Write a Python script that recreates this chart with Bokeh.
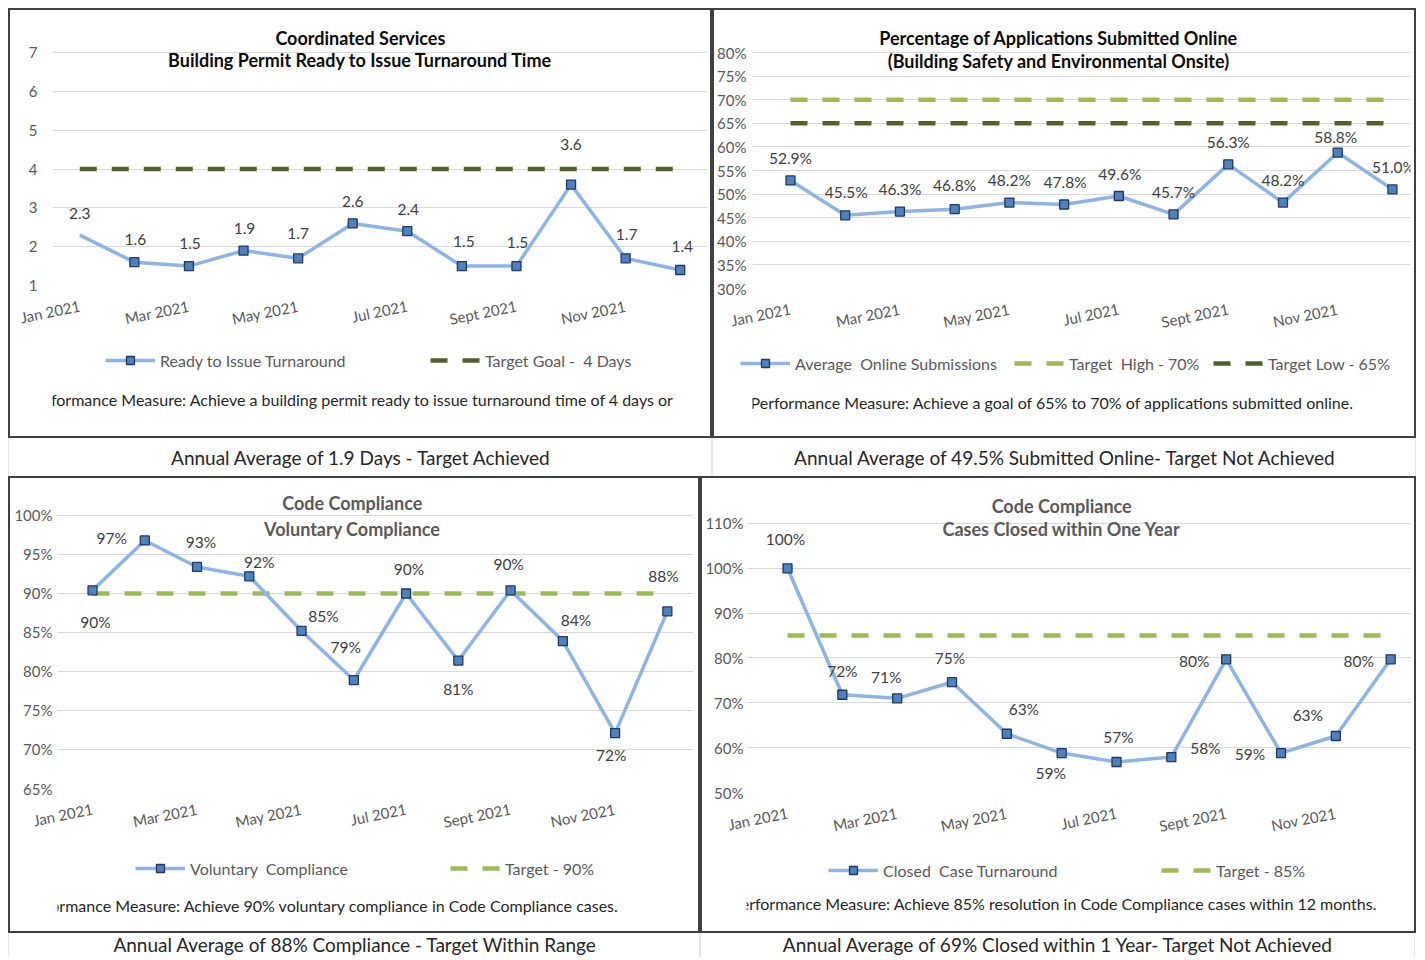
from bokeh.plotting import figure
from bokeh.models import (Range1d, FixedTicker, Legend, LegendItem, Label,
                          ColumnDataSource, PrintfTickFormatter)
from bokeh.layouts import column, row
from bokeh.embed import file_html
from bokeh.resources import INLINE
from bokeh.core.properties import value

FONT = "Lato"

# ---------------- data ----------------
months = ["Jan 2021", "Feb 2021", "Mar 2021", "Apr 2021", "May 2021", "Jun 2021",
          "Jul 2021", "Aug 2021", "Sept 2021", "Oct 2021", "Nov 2021", "Dec 2021"]
tick_months = [0, 2, 4, 6, 8, 10]
tick_labels = ["Jan 2021", "Mar 2021", "May 2021", "Jul 2021", "Sept 2021", "Nov 2021"]

turnaround_days = [2.3, 1.6, 1.5, 1.9, 1.7, 2.6, 2.4, 1.5, 1.5, 3.6, 1.7, 1.4]
turnaround_target = 4

online_pct = [52.9, 45.5, 46.3, 46.8, 48.2, 47.8, 49.6, 45.7, 56.3, 48.2, 58.8, 51.0]
online_target_high = 70
online_target_low = 65

voluntary_pct = [90.4, 96.8, 93.4, 92.2, 85.2, 78.9, 90.0, 81.4, 90.4, 83.9, 72.1, 87.7]
voluntary_target = 90

closed_pct = [100, 71.8, 71.0, 74.6, 63.1, 58.8, 56.8, 57.9, 79.7, 58.8, 62.6, 79.7]
closed_target = 85

# ---------------- label placement (style, px; +dy = down) ----------------
p1_dx = [0, 1, 1, 1, 0, 0, 1, 2, 1, 0, 1, 2]
p1_dy = [-22, -23, -23, -22, -25, -22, -22, -25, -24, -40, -24, -23]
p2_dx = [0, 1, 0, 0, 0, 1, 1, 0, 0, 0, -2, 1]
p2_dy = [-22, -23, -23, -24, -23, -22, -22, -22, -22, -23, -16, -22]
p3_dx = [3, -33, 4, 10, 22, -8, 3, 0, -2, 13, -4, -4]
p3_dy = [32, -2, -25, -14, -15, -33, -24, 28, -26, -21, 22, -35]
p4_dx = [-2, 0, -11, -2, 17, -11, 2, 34, -32, -31, -28, -32]
p4_dy = [-29, -24, -21, -24, -25, 20, -25, -9, 2, 1, -21, 2]

LINE_BLUE = "#8EB4E3"
MARK_FILL = "#4F81BD"
MARK_LINE = "#1F3864"
DARK_GREEN = "#4F6228"
LIGHT_GREEN = "#9BBB59"
GRID = "#D9D9D9"
LABEL_GRAY = "#595959"
DASH = "17 15"
AX_BOTTOM = 55


def panel(inner_w, mb_left, frame_w, frame_h, legend_h,
          xr, yr, yticks, pct, ystandoff, values, fmt, dx, dy,
          titles, title_color, title_x, title_ys,
          series_label, targets, legend_xs, legend_cy,
          perf_text, perf_x, perf_cy, skip_first_marker=False):
    p = figure(frame_width=frame_w, frame_height=frame_h,
               x_range=Range1d(*xr), y_range=Range1d(*yr),
               output_backend="svg", toolbar_location=None,
               min_border_left=mb_left, min_border_right=inner_w - mb_left - frame_w,
               min_border_top=10, min_border_bottom=AX_BOTTOM)
    p.outline_line_color = None
    p.background_fill_color = "white"
    p.border_fill_color = "white"
    p.xgrid.grid_line_color = None
    p.ygrid.ticker = FixedTicker(ticks=yticks)
    p.ygrid.grid_line_color = GRID
    p.ygrid.grid_line_width = 1.2

    p.yaxis.ticker = FixedTicker(ticks=yticks)
    if pct:
        p.yaxis.formatter = PrintfTickFormatter(format="%d%%")
    p.yaxis.axis_line_color = None
    p.yaxis.major_tick_line_color = None
    p.yaxis.minor_tick_line_color = None
    p.yaxis.major_tick_out = 0
    p.yaxis.minor_tick_out = 0
    p.yaxis.major_label_standoff = ystandoff
    p.yaxis.major_label_text_font = FONT
    p.yaxis.major_label_text_font_size = "15px"
    p.yaxis.major_label_text_color = LABEL_GRAY

    p.xaxis.ticker = FixedTicker(ticks=tick_months)
    p.xaxis.major_label_overrides = {t: l for t, l in zip(tick_months, tick_labels)}
    p.xaxis.axis_line_color = None
    p.xaxis.major_tick_line_color = None
    p.xaxis.minor_tick_line_color = None
    p.xaxis.major_tick_out = 0
    p.xaxis.minor_tick_out = 0
    p.xaxis.major_label_orientation = 0.2
    p.xaxis.major_label_standoff = 20
    p.xaxis.major_label_text_font = FONT
    p.xaxis.major_label_text_font_size = "15px"
    p.xaxis.major_label_text_color = LABEL_GRAY

    xs = list(range(len(months)))
    for tval, tcolor, tlabel in targets:
        p.line(x=[xs[0], xs[-1]], y=[tval, tval], line_color=tcolor,
               line_width=4.5, line_dash=DASH)
    src = ColumnDataSource(dict(x=xs, y=values, label=[fmt(v) for v in values],
                                dx=dx, dy=dy))
    p.line("x", "y", source=src, line_color=LINE_BLUE, line_width=3.5)
    start = 1 if skip_first_marker else 0
    msrc = ColumnDataSource(dict(x=xs[start:], y=values[start:]))
    p.scatter("x", "y", source=msrc, marker="square", size=9,
              fill_color=MARK_FILL, line_color=MARK_LINE, line_width=1.3)
    p.text("x", "y", text="label", source=src, x_offset="dx", y_offset="dy",
           text_align="center", text_baseline="middle",
           text_font=value(FONT), text_font_size="15.5px", text_color="#404040")
    for txt, ty in zip(titles, title_ys):
        p.add_layout(Label(x=title_x, y=ty, text=txt, text_align="center",
                           text_baseline="middle", text_font=FONT,
                           text_font_style="bold", text_font_size="18px",
                           text_color=title_color))

    # ---- legend + performance strip (legend swatches use the series off-view) ----
    lf = figure(frame_width=inner_w, frame_height=legend_h, x_range=Range1d(0, inner_w),
                y_range=Range1d(0, legend_h), output_backend="svg",
                toolbar_location=None, min_border=0,
                x_axis_type=None, y_axis_type=None)
    lf.grid.visible = False
    lf.outline_line_color = None
    lf.border_fill_color = "white"
    lf.background_fill_color = "white"
    entries = []
    off = [v - 1000 for v in values]
    sl = lf.line(x=xs, y=off, line_color=LINE_BLUE, line_width=3.5)
    ss = lf.scatter(x=xs, y=off, marker="square", size=9, fill_color=MARK_FILL,
                    line_color=MARK_LINE, line_width=1.3)
    entries.append((series_label, [sl, ss]))
    for tval, tcolor, tlabel in targets:
        tl = lf.line(x=[xs[0], xs[-1]], y=[tval - 1000, tval - 1000], line_color=tcolor,
                     line_width=4.5, line_dash=DASH)
        entries.append((tlabel, [tl]))
    for (lab, rends), lx in zip(entries, legend_xs):
        lg = Legend(items=[LegendItem(label=lab, renderers=rends)],
                    location=(lx, legend_h - legend_cy - 10),
                    orientation="horizontal", glyph_width=50, glyph_height=20,
                    label_height=20, label_standoff=5, padding=0, margin=0,
                    border_line_color=None, background_fill_alpha=0,
                    label_text_font=FONT, label_text_font_size="16px",
                    label_text_color=LABEL_GRAY)
        lf.add_layout(lg)
    lf.add_layout(Label(x=perf_x, y=legend_h - perf_cy, text=perf_text,
                        text_align="left", text_baseline="middle", text_font=FONT,
                        text_font_size="16px", text_color="#262626"))
    return column(p, lf, styles={"border": "2px solid #404040"})


def caption(text, W, H, yfrac):
    c = figure(frame_width=W - 2, frame_height=H, x_range=Range1d(0, 1),
               y_range=Range1d(0, 1), output_backend="svg", toolbar_location=None,
               min_border=0, x_axis_type=None, y_axis_type=None)
    c.grid.visible = False
    c.outline_line_color = None
    c.styles = {"border-left": "1px solid #E6E6E6", "border-right": "1px solid #E6E6E6"}
    c.text(x=[0.5], y=[yfrac], text=[text], text_align="center",
           text_baseline="middle", text_font=value(FONT), text_font_size="19px",
           text_color="#262626")
    return c


fmt_days = lambda v: f"{v:.1f}"
fmt_pct1 = lambda v: f"{v:.1f}%"
fmt_pct0 = lambda v: f"{v:.0f}%"

p1 = panel(700, 42, 655, 265, 96,
           (-0.5, 11.5), (1, 7.83), [1, 2, 3, 4, 5, 6, 7], False, 15,
           turnaround_days, fmt_days, p1_dx, p1_dy,
           ["Coordinated Services", "Building Permit Ready to Issue Turnaround Time"],
           "#0D0D0D", 5.14, [7.39, 6.80],
           "Ready to Issue Turnaround",
           [(turnaround_target, DARK_GREEN, "Target Goal -  4 Days")],
           [95, 420], 20,
           "Performance Measure: Achieve a building permit ready to issue turnaround time of 4 days or",
           -25, 59, skip_first_marker=True)

p2 = panel(700, 38, 658, 268, 93,
           (-0.694, 11.33), (30, 86.78), [30, 35, 40, 45, 50, 55, 60, 65, 70, 75, 80],
           True, 6, online_pct, fmt_pct1, p2_dx, p2_dy,
           ["Percentage of Applications Submitted Online",
            "(Building Safety and Environmental Onsite)"],
           "#0D0D0D", 4.9, [82.97, 78.1],
           "Average  Online Submissions",
           [(online_target_high, LIGHT_GREEN, "Target  High - 70%"),
            (online_target_low, DARK_GREEN, "Target Low - 65%")],
           [26, 300, 499], 20,
           "Performance Measure: Achieve a goal of 65% to 70% of applications submitted online.",
           -2, 59)

p3 = panel(688, 47, 636, 300, 88,
           (-0.67, 11.5), (65, 103.46), [65, 70, 75, 80, 85, 90, 95, 100],
           True, 5, voluntary_pct, fmt_pct0, p3_dx, p3_dy,
           ["Code Compliance", "Voluntary Compliance"],
           "#595959", 4.97, [101.54, 98.33],
           "Voluntary  Compliance",
           [(voluntary_target, LIGHT_GREEN, "Target - 90%")],
           [125, 440], 25,
           "Performance Measure: Achieve 90% voluntary compliance in Code Compliance cases.",
           -36, 62)

p4 = panel(711, 43, 665, 304, 84,
           (-0.748, 11.38), (50, 117.8), [50, 60, 70, 80, 90, 100, 110],
           True, 3, closed_pct, fmt_pct0, p4_dx, p4_dy,
           ["Code Compliance", "Cases Closed within One Year"],
           "#595959", 5.0, [114.0, 108.66],
           "Closed  Case Turnaround",
           [(closed_target, LIGHT_GREEN, "Target - 85%")],
           [126, 459], 23,
           "Performance Measure: Achieve 85% resolution in Code Compliance cases within 12 months.",
           -15, 56)

c1 = caption("Annual Average of 1.9 Days - Target Achieved", 704, 38, 0.5)
c2 = caption("Annual Average of 49.5% Submitted Online- Target Not Achieved", 704, 38, 0.5)
c3 = caption("Annual Average of 88% Compliance - Target Within Range", 692, 24, 0.56)
c4 = caption("Annual Average of 69% Closed within 1 Year- Target Not Achieved", 715, 24, 0.56)

layout = column(row(p1, p2), row(c1, c2), row(p3, p4), row(c3, c4),
                margin=(8, 0, 0, 8))

open("out.html", "w").write(file_html(layout, INLINE))
